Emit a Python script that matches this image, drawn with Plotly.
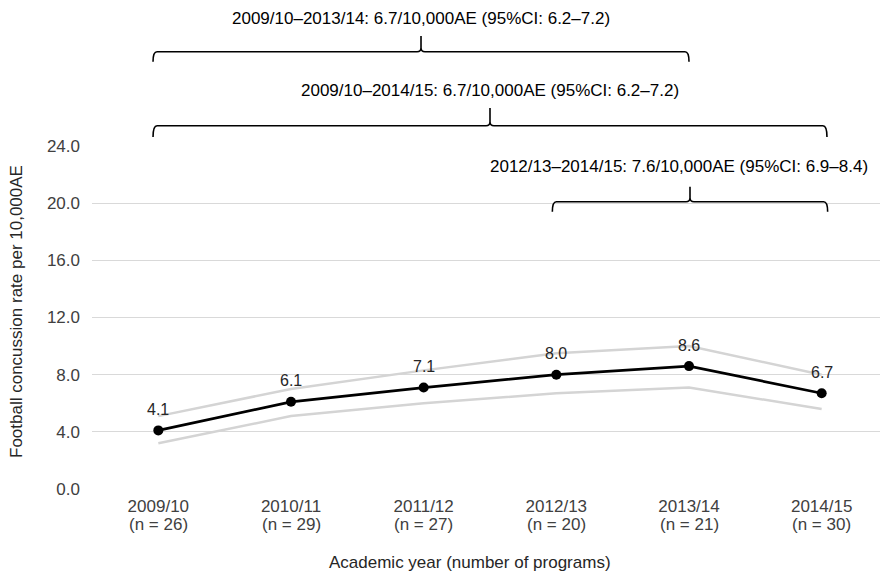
import plotly.graph_objects as go

# ---------------- data ----------------
years = ["2009/10", "2010/11", "2011/12", "2012/13", "2013/14", "2014/15"]
n_programs = [26, 29, 27, 20, 21, 30]
rate = [4.1, 6.1, 7.1, 8.0, 8.6, 6.7]
ci_upper = [5.1, 7.0, 8.3, 9.5, 10.0, 8.0]
ci_lower = [3.2, 5.1, 6.0, 6.7, 7.1, 5.6]
y_ticks = [0, 4, 8, 12, 16, 20, 24]

bracket_labels = [
    "2009/10–2013/14: 6.7/10,000AE (95%CI: 6.2–7.2)",
    "2009/10–2014/15: 6.7/10,000AE (95%CI: 6.2–7.2)",
    "2012/13–2014/15: 7.6/10,000AE (95%CI: 6.9–8.4)",
]
bracket_start = ["2009/10", "2009/10", "2012/13"]
bracket_end = ["2013/14", "2014/15", "2014/15"]

# ---------------- layout constants ----------------
FONT = "Liberation Sans, Arial, sans-serif"
OFF = 8                      # default page body margin
W, H = 888 - OFF, 577 - OFF
L, R, T, B = 84, 0, 138, 88
PH = H - T - B
PW = W - L - R


def paper_y(py):            # py: page pixel (from window top)
    return (H - B + OFF - py) / PH


def paper_x(px):            # px: page pixel (from window left)
    return (px - OFF - L) / PW


xs = list(range(len(years)))

fig = go.Figure()
fig.add_trace(go.Scatter(x=xs, y=ci_upper, mode="lines",
                         line=dict(color="#d4d4d4", width=2.5), hoverinfo="skip"))
fig.add_trace(go.Scatter(x=xs, y=ci_lower, mode="lines",
                         line=dict(color="#d4d4d4", width=2.5), hoverinfo="skip"))
fig.add_trace(go.Scatter(x=xs, y=rate, mode="lines+markers",
                         line=dict(color="#000000", width=2.75),
                         marker=dict(color="#000000", size=10)))

annotations = []
shapes = []

# data labels above points
for i, v in enumerate(rate):
    annotations.append(dict(x=i, xref="x", y=v, yref="y", text=f"{v:.1f}",
                            showarrow=False, xanchor="center", yanchor="middle", yshift=21,
                            font=dict(family=FONT, size=16, color="#262626")))

# brackets (vertical positions in page pixels; span from categories)
bracket_px = [  # (horizontal y, end drop y, tick top y, text center y, left pad, right pad, text shift)
    (51.7, 61.7, 36.0, 18.0, -0.04, 0.0, 0.0),
    (125.7, 137.0, 108.0, 91.0, -0.04, 0.04, 0.0),
    (201.7, 211.7, 186.7, 166.0, -0.03, 0.045, -0.08),
]
r = 0.03
for lab, s, e, (yh, ye, yt, ytxt, pl, pr, sh) in zip(bracket_labels, bracket_start, bracket_end, bracket_px):
    x0 = years.index(s) + pl
    x1 = years.index(e) + pr
    xm = (x0 + x1) / 2
    h, en, tk = paper_y(yh), paper_y(ye), paper_y(yt)
    hr = (paper_y(yh - 4) - h)
    path = (f"M {x0},{en} Q {x0},{h} {x0 + r},{h} "
            f"L {xm - r},{h} Q {xm},{h} {xm},{h + hr} L {xm},{tk} "
            f"M {xm},{h + hr} Q {xm},{h} {xm + r},{h} "
            f"L {x1 - r},{h} Q {x1},{h} {x1},{en}")
    shapes.append(dict(type="path", xref="x", yref="paper", path=path,
                       line=dict(color="#000000", width=1.6)))
    annotations.append(dict(x=xm + sh, xref="x", y=paper_y(ytxt), yref="paper",
                            text=lab, showarrow=False, xanchor="center", yanchor="middle",
                            font=dict(family=FONT, size=17, color="#000000")))

# n = ... second tick-label line
for i, n in enumerate(n_programs):
    annotations.append(dict(x=i, xref="x", y=paper_y(524.5), yref="paper",
                            text=f"(n = {n})", showarrow=False, xanchor="center", yanchor="middle",
                            font=dict(family=FONT, size=17, color="#404040")))

# axis titles
annotations.append(dict(x=paper_x(470), xref="paper", y=paper_y(562), yref="paper",
                        text="Academic year (number of programs)", showarrow=False,
                        xanchor="center", yanchor="middle",
                        font=dict(family=FONT, size=17, color="#262626")))
annotations.append(dict(x=paper_x(16), xref="paper", y=paper_y(312), yref="paper",
                        text="Football concussion rate per 10,000AE", showarrow=False,
                        textangle=-90, xanchor="center", yanchor="middle",
                        font=dict(family=FONT, size=17, color="#262626")))

fig.update_layout(
    width=W, height=H,
    margin=dict(l=L, r=R, t=T, b=B, autoexpand=False),
    plot_bgcolor="#ffffff", paper_bgcolor="#ffffff",
    showlegend=False,
    font=dict(family=FONT, size=17, color="#404040"),
    xaxis=dict(range=[-0.5, len(years) - 0.5], tickvals=xs, ticktext=years,
               showgrid=False, zeroline=False, showline=False, ticks="",
               ticklabelstandoff=5, tickfont=dict(family=FONT, size=17, color="#404040")),
    yaxis=dict(range=[0, 24], tickvals=y_ticks, ticktext=[f"{v:.1f}" for v in y_ticks],
               showgrid=True, gridcolor="#d9d9d9", gridwidth=1.3, zeroline=False,
               showline=False, ticks="", ticklabelstandoff=11,
               tickfont=dict(family=FONT, size=17, color="#404040")),
    shapes=shapes,
    annotations=annotations,
)

fig.write_html("out.html")
